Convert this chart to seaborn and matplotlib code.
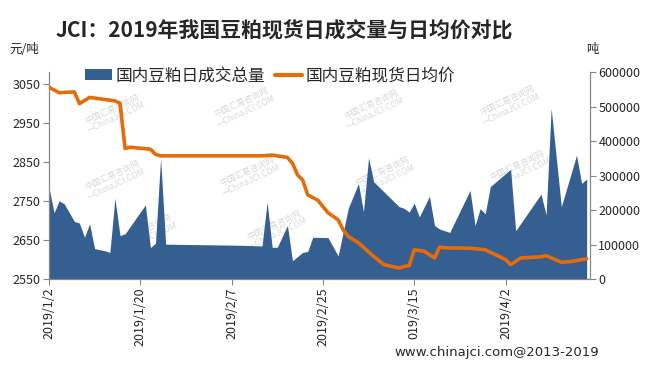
# JCI: 2019 soybean meal spot daily volume vs average price
import pandas as pd
import numpy as np
import seaborn as sns
import matplotlib.pyplot as plt
from matplotlib.patches import Patch
from matplotlib.lines import Line2D

# =========================
# Data
# =========================
vol_dates = [
    "2019-01-02", "2019-01-03", "2019-01-04", "2019-01-05", "2019-01-07",
    "2019-01-08", "2019-01-09", "2019-01-10", "2019-01-11", "2019-01-13",
    "2019-01-14", "2019-01-15", "2019-01-16", "2019-01-17", "2019-01-21",
    "2019-01-22", "2019-01-23", "2019-01-24", "2019-01-25", "2019-02-08",
    "2019-02-13", "2019-02-14", "2019-02-15", "2019-02-16", "2019-02-18",
    "2019-02-19", "2019-02-21", "2019-02-22", "2019-02-23", "2019-02-26",
    "2019-02-28", "2019-03-02", "2019-03-04", "2019-03-05", "2019-03-06",
    "2019-03-07", "2019-03-12", "2019-03-13", "2019-03-14", "2019-03-15",
    "2019-03-16", "2019-03-18", "2019-03-19", "2019-03-20", "2019-03-22",
    "2019-03-26", "2019-03-27", "2019-03-28", "2019-03-29", "2019-03-30",
    "2019-04-03", "2019-04-04", "2019-04-09", "2019-04-10", "2019-04-11",
    "2019-04-13", "2019-04-16", "2019-04-17", "2019-04-18",
]
vol_values = [
    265000, 192000, 227000, 218000, 167000,
    162000, 121000, 160000, 88000, 82000,
    77000, 234000, 126000, 131000, 215000,
    91000, 104000, 350000, 101000, 98000,
    96000, 223000, 92000, 92000, 155000,
    53000, 77000, 80000, 121000, 120000,
    67000, 205000, 277000, 195000, 352000,
    282000, 210000, 205000, 194000, 220000,
    180000, 240000, 155000, 145000, 135000,
    257000, 155000, 204000, 189000, 268000,
    318000, 140000, 246000, 186000, 495000,
    210000, 359000, 277000, 290000,
]

price_dates = [
    "2019-01-02", "2019-01-04", "2019-01-07", "2019-01-08", "2019-01-10",
    "2019-01-15", "2019-01-16", "2019-01-17", "2019-01-18", "2019-01-22",
    "2019-01-23", "2019-01-24", "2019-02-13", "2019-02-15", "2019-02-18",
    "2019-02-19", "2019-02-20", "2019-02-21", "2019-02-22", "2019-02-24",
    "2019-02-26", "2019-02-28", "2019-03-01", "2019-03-02", "2019-03-04",
    "2019-03-07", "2019-03-09", "2019-03-12", "2019-03-13", "2019-03-14",
    "2019-03-15", "2019-03-17", "2019-03-19", "2019-03-20", "2019-03-21",
    "2019-03-26", "2019-03-29", "2019-04-02", "2019-04-03", "2019-04-05",
    "2019-04-09", "2019-04-10", "2019-04-13", "2019-04-15", "2019-04-18",
]
price_values = [
    3042, 3028, 3030, 3000, 3016,
    3007, 3001, 2885, 2888, 2883,
    2870, 2866, 2866, 2868, 2862,
    2847, 2817, 2804, 2766, 2752,
    2720, 2702, 2676, 2659, 2643,
    2608, 2587, 2578, 2582, 2584,
    2625, 2621, 2604, 2632, 2630,
    2629, 2625, 2600, 2587, 2604,
    2607, 2610, 2593, 2595, 2602,
]

tick_dates = ["2019-01-02", "2019-01-20", "2019-02-07", "2019-02-25", "2019-03-15", "2019-04-02"]
tick_labels = ["2019/1/2", "2019/1/20", "2019/2/7", "2019/2/25", "019/3/15", "2019/4/2"]

vol_name = "国内豆粕日成交总量"
price_name = "国内豆粕现货日均价"

BLUE = "#365F91"
ORANGE = "#E46C0A"
GREY = "#868686"


def main():
    sns.set_style("white")
    plt.rcParams["font.family"] = ["Noto Sans CJK SC", "DejaVu Sans"]

    df_vol = pd.DataFrame({"date": pd.to_datetime(vol_dates), "volume": vol_values})
    df_price = pd.DataFrame({"date": pd.to_datetime(price_dates), "price": price_values})

    fig = plt.figure(figsize=(6.48, 3.65), dpi=100)
    ax = fig.add_axes([0.0756, 0.2356, 0.835, 0.567])

    # area (right axis) drawn first so the price line sits on top
    ax.fill_between(df_vol["date"], df_vol["volume"], color=BLUE, lw=0, zorder=2)
    ax.set_ylim(0, 600000)
    ax.set_yticks(np.arange(0, 600001, 100000))

    # watermarks
    wm_pos = [(0.12, 0.80), (0.36, 0.83), (0.60, 0.82), (0.85, 0.84),
              (0.12, 0.48), (0.37, 0.50), (0.62, 0.50), (0.87, 0.53),
              (0.18, 0.22), (0.42, 0.24)]
    for wx, wy in wm_pos:
        ax.text(wx, wy, "中国汇易咨询网\n—ChinaJCI.COM", transform=ax.transAxes,
                fontsize=6, color="#C8C8C8", rotation=25, ha="center",
                va="center", alpha=0.7, zorder=1, linespacing=1.1)

    ax2 = ax.twinx()
    sns.lineplot(data=df_price, x="date", y="price", ax=ax2, color=ORANGE,
                 lw=2.6, zorder=3)
    ax2.set_ylim(2550, 3081)
    ax2.set_yticks(np.arange(2550, 3051, 100))
    ax2.set_ylabel("")
    ax2.set_xlabel("")
    ax.set_xlabel("")

    # swap sides: volume on the right, price on the left
    ax.tick_params(axis="y", left=False, labelleft=False, right=True,
                   labelright=True, direction="out", length=4, color=GREY,
                   labelsize=9, pad=2)
    ax2.tick_params(axis="y", left=True, labelleft=True, right=False,
                    labelright=False, direction="out", length=4, color=GREY,
                    labelsize=9, pad=2)

    ax.set_xlim(pd.Timestamp("2019-01-02"), pd.Timestamp("2019-04-18 16:00"))
    ax.set_xticks(pd.to_datetime(tick_dates))
    ax.set_xticklabels(tick_labels, rotation=90, fontsize=9)
    ax.tick_params(axis="x", bottom=True, direction="out", length=4,
                   color=GREY, pad=2)

    for a in (ax, ax2):
        a.spines["top"].set_visible(False)
        for s in ("left", "right", "bottom"):
            a.spines[s].set_color(GREY)
            a.spines[s].set_linewidth(0.8)

    handles = [Patch(facecolor=BLUE, edgecolor="none"),
               Line2D([0], [0], color=ORANGE, lw=3)]
    ax2.legend(handles, [vol_name, price_name], loc="upper left",
               bbox_to_anchor=(0.055, 1.055), ncol=2, frameon=False,
               fontsize=12, handlelength=1.6, handleheight=0.7,
               handletextpad=0.2, columnspacing=0.6, borderaxespad=0)

    fig.text(0.085, 0.915, "JCI：2019年我国豆粕现货日成交量与日均价对比",
             fontsize=15, fontweight="bold", ha="left", va="center")
    fig.text(0.015, 0.865, "元/吨", fontsize=9, ha="left", va="center")
    fig.text(0.905, 0.865, "吨", fontsize=9, ha="left", va="center")
    fig.text(0.925, 0.035, "www.chinajci.com@2013-2019", fontsize=9.5,
             ha="right", va="center", family=["DejaVu Sans"])

    fig.savefig("out.png", dpi=100)


if __name__ == "__main__":
    main()
